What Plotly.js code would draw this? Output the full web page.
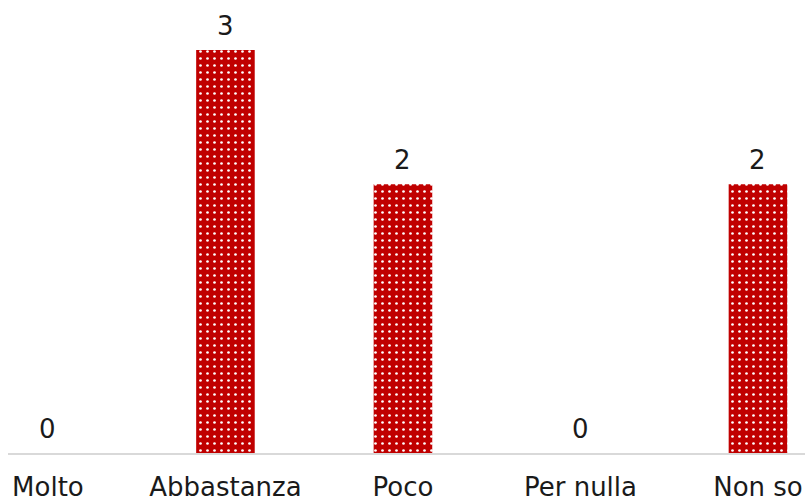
<!DOCTYPE html>
<html>
<head>
<meta charset="utf-8">
<script src="https://cdn.plot.ly/plotly-3.0.1.min.js"></script>
<style>
  html, body { margin: 0; padding: 0; background: #ffffff; }
  #chart { width: 805px; height: 501px; }
</style>
</head>
<body>
<div id="chart"></div>
<script>
// Answer categories and counts
const categories = ["Molto", "Abbastanza", "Poco", "Per nulla", "Non so"];
const counts = [0, 3, 2, 0, 2];

const FONT = "DejaVu Sans, Verdana, sans-serif";

const barTrace = {
  type: "bar",
  x: categories,
  y: counts,
  width: 0.33,
  marker: {
    color: "#C00000",
    line: { width: 0 },
    pattern: {
      shape: ".",
      fgcolor: "#ffffff",
      bgcolor: "#C00000",
      size: 7,
      solidity: 0.12,
      fillmode: "replace"
    }
  },
  hoverinfo: "skip"
};

// Value labels sit a little above each bar top
const valueLabels = categories.map((c, i) => ({
  x: c,
  y: counts[i],
  xref: "x",
  yref: "y",
  text: String(counts[i]),
  showarrow: false,
  yanchor: "bottom",
  yshift: 7,
  font: { family: FONT, size: 26, color: "#1a1a1a" }
}));

const layout = {
  width: 805,
  height: 501,
  margin: { l: 8, r: 0, t: 20, b: 48 },
  paper_bgcolor: "#ffffff",
  plot_bgcolor: "#ffffff",
  showlegend: false,
  annotations: valueLabels,
  xaxis: {
    type: "category",
    range: [-0.225, 4.265],
    showline: true,
    linecolor: "#d9d9d9",
    linewidth: 2,
    showgrid: false,
    zeroline: false,
    ticks: "",
    tickfont: { family: FONT, size: 26, color: "#1a1a1a" },
    ticklabelstandoff: 10,
    fixedrange: true
  },
  yaxis: {
    range: [0, 3.2233],
    visible: false,
    showgrid: false,
    zeroline: false,
    fixedrange: true
  }
};

Plotly.newPlot("chart", [barTrace], layout, { displayModeBar: false, staticPlot: true });
</script>
</body>
</html>
